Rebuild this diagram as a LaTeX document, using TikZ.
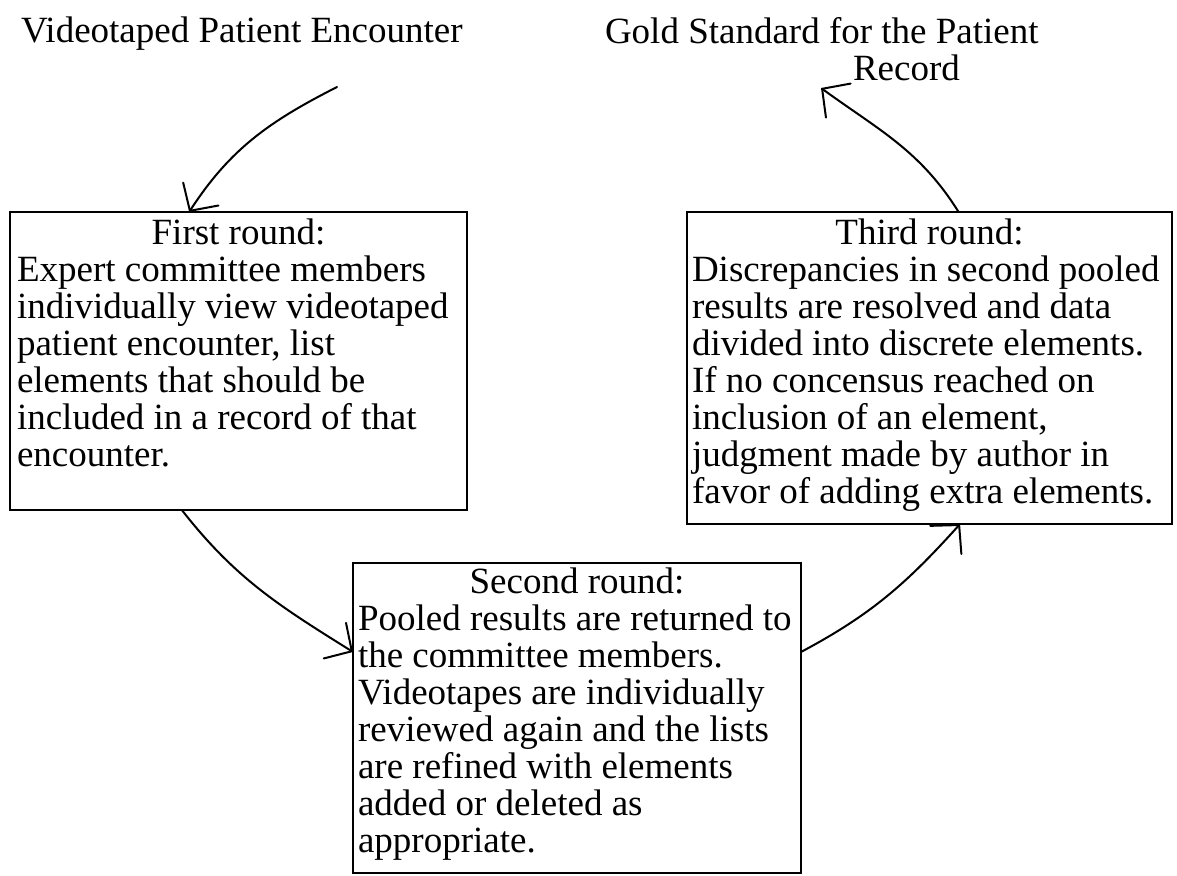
\documentclass[tikz,border=0pt]{standalone}
\usepackage{fontspec}
\setmainfont{Liberation Serif}
\usetikzlibrary{arrows.meta,calc}
\begin{document}
\begin{tikzpicture}[x=1pt,y=1pt,
  every node/.style={font=\fontsize{37}{37}\selectfont, inner sep=0pt, outer sep=0pt},
  roundbox/.style={draw, line width=2pt, rectangle, anchor=north west},
  boxtext/.style={anchor=north west, align=left},
  conn/.style={line width=2pt, line cap=round, -{Straight Barb[length=20pt,width=42pt,line cap=round]}}]
\useasboundingbox (0,0) rectangle (1177,-875);
% boxes
\node[roundbox, minimum width=457pt, minimum height=298pt] (b1) at (10,-212) {};
\node[roundbox, minimum width=448pt, minimum height=310pt] (b2) at (353,-563) {};
\node[roundbox, minimum width=485pt, minimum height=312pt] (b3) at (687,-212) {};
% titles
\node[anchor=base west] (t1) at (21,-42) {Videotaped Patient Encounter};
\node[boxtext] (t2) at (605,-17) {\rule{0pt}{26pt}Gold Standard for the Patient\\\hspace*{248pt}Record};
% box texts
\node[boxtext] (x1) at (17,-218) {\rule{0pt}{26pt}\makebox[443pt]{First round:}\\Expert committee members\\individually view videotaped\\patient encounter, list\\elements that should be\\included in a record of that\\encounter.};
\node[boxtext] (x2) at (358,-567) {\rule{0pt}{26pt}\makebox[438pt]{Second round:}\\Pooled results are returned to\\the committee members.\\Videotapes are individually\\reviewed again and the lists\\are refined with elements\\added or deleted as\\appropriate.};
\node[boxtext] (x3) at (692,-218) {\rule{0pt}{26pt}\makebox[475pt]{Third round:}\\Discrepancies in second pooled\\results are resolved and data\\divided into discrete elements.\\If no concensus reached on\\inclusion of an element,\\judgment made by author in\\favor of adding extra elements.};
% connectors
\coordinate (s1) at (337,-87);
\coordinate (e4) at (821,-88);
\draw[conn] (s1) to[out=207,in=57] ($(b1.north west)!0.392!(b1.north east)$);
\draw[conn] ($(b1.south west)!0.376!(b1.south east)$) to[out=-52,in=148] ($(b2.north west)!0.287!(b2.south west)$);
\draw[conn] ($(b2.north east)!0.287!(b2.south east)$) to[out=28,in=228] ($(b3.south west)!0.563!(b3.south east)$);
\draw[conn] ($(b3.north west)!0.56!(b3.north east)$) to[out=122,in=-36] (e4);
\end{tikzpicture}
\end{document}
